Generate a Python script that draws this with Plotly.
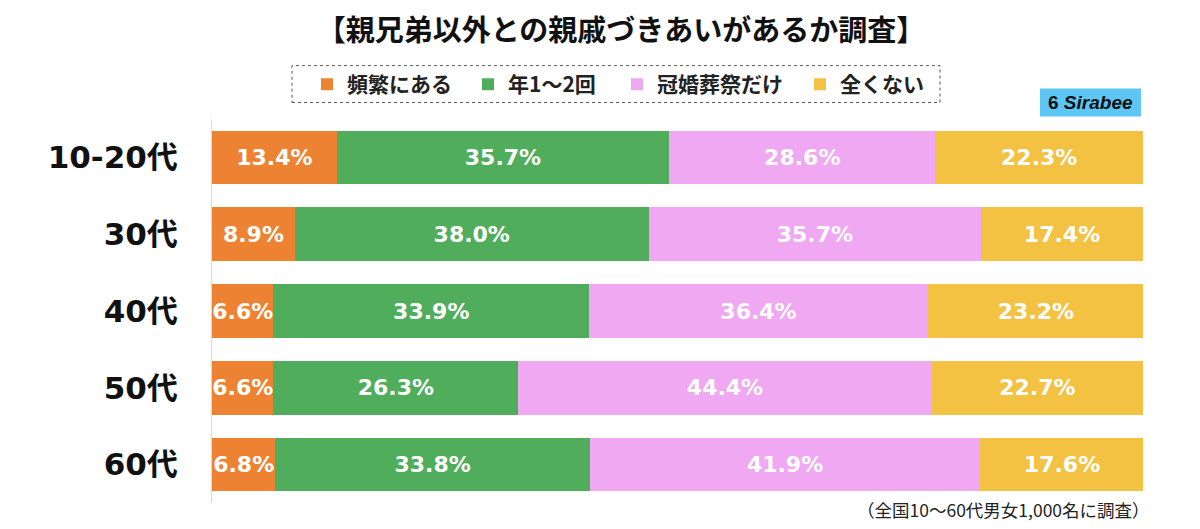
import plotly.graph_objects as go

categories = ["10-20代", "30代", "40代", "50代", "60代"]
series_names = ["頻繁にある", "年1～2回", "冠婚葬祭だけ", "全くない"]
frequent = [13.4, 8.9, 6.6, 6.6, 6.8]
yearly = [35.7, 38.0, 33.9, 26.3, 33.8]
ceremony = [28.6, 35.7, 36.4, 44.4, 41.9]
never = [22.3, 17.4, 23.2, 22.7, 17.6]
colors = ["#ED8332", "#50AD5C", "#F0A8F2", "#F4C243"]

CJK = "Noto Sans CJK JP"
NUM = "DejaVu Sans, Noto Sans CJK JP"

# page has an 8px body margin; figure size and coordinates compensate for it
OFF = 8
W, H = 1200 - OFF, 529 - OFF
# plot area in screen pixels (as seen in the reference)
SX0, SX1, SY0, SY1 = 212, 1143, 118.5, 503.5
L = SX0 - OFF
R = W - (SX1 - OFF)
T = SY0 - OFF
B = H - (SY1 - OFF)
pw = SX1 - SX0
ph = SY1 - SY0


def px(sx):
    return (sx - SX0) / pw


def py(sy):
    return (SY1 - sy) / ph


legend_ids = ["legend", "legend2", "legend3", "legend4"]
legend_text_x = [347, 508, 657, 840]

fig = go.Figure()
for name, vals, col, lid in zip(series_names, [frequent, yearly, ceremony, never], colors, legend_ids):
    fig.add_trace(go.Bar(
        y=categories, x=vals, name=name, orientation="h", legend=lid,
        marker=dict(color=col, line=dict(width=0)),
        text=[f"{v:.1f}%" for v in vals], textposition="inside",
        insidetextanchor="middle", constraintext="none",
        textfont=dict(color="white", size=22, family=NUM, weight="bold"),
        hoverinfo="skip",
    ))

legend_layouts = {}
for lid, tx in zip(legend_ids, legend_text_x):
    legend_layouts[lid] = dict(
        orientation="h", x=px(tx - 40), xanchor="left", y=py(84), yanchor="middle",
        font=dict(size=21, family=CJK, weight="bold", color="#222"),
        itemwidth=30, bgcolor="rgba(0,0,0,0)", itemclick=False, itemdoubleclick=False,
    )

fig.update_layout(
    width=W, height=H,
    barmode="stack", bargap=0.3,
    margin=dict(l=L, r=R, t=T, b=B, autoexpand=False),
    plot_bgcolor="white", paper_bgcolor="white",
    font=dict(family=CJK, color="black"),
    uniformtext=dict(mode="show", minsize=22),
    title=dict(text="【親兄弟以外との親戚づきあいがあるか調査】", x=(621 - OFF) / W, xanchor="center",
               y=1 - (31 - OFF) / H, yanchor="middle",
               font=dict(size=29, family=CJK, weight="bold", color="#111")),
    showlegend=True,
    **legend_layouts,
    xaxis=dict(range=[0, 100], visible=False, fixedrange=True),
    yaxis=dict(categoryorder="array", categoryarray=categories[::-1], showline=True,
               linecolor="#d9d9d9", linewidth=1, ticks="", ticklabelstandoff=27,
               tickfont=dict(size=31, family=NUM, weight="bold", color="#111"),
               fixedrange=True),
    shapes=[
        dict(type="rect", xref="paper", yref="paper", x0=px(292), x1=px(940),
             y0=py(102), y1=py(65), line=dict(color="#555", width=1, dash="dot")),
        dict(type="rect", xref="paper", yref="paper", x0=px(1040), x1=px(1141),
             y0=py(116), y1=py(88), line=dict(width=0), fillcolor="#5DC6F4"),
    ],
    annotations=[
        dict(text="<b>6</b> <b><i>Sirabee</i></b>", xref="paper", yref="paper",
             x=px(1090), y=py(102), xanchor="center", yanchor="middle", showarrow=False,
             font=dict(size=19, family="Liberation Sans", color="#111")),
        dict(text="（全国10～60代男女1,000名に調査）", xref="paper", yref="paper",
             x=px(1152), y=py(510), xanchor="right", yanchor="middle", showarrow=False,
             font=dict(size=17.5, family=CJK, color="#222")),
    ],
)
fig.write_html("out.html")
